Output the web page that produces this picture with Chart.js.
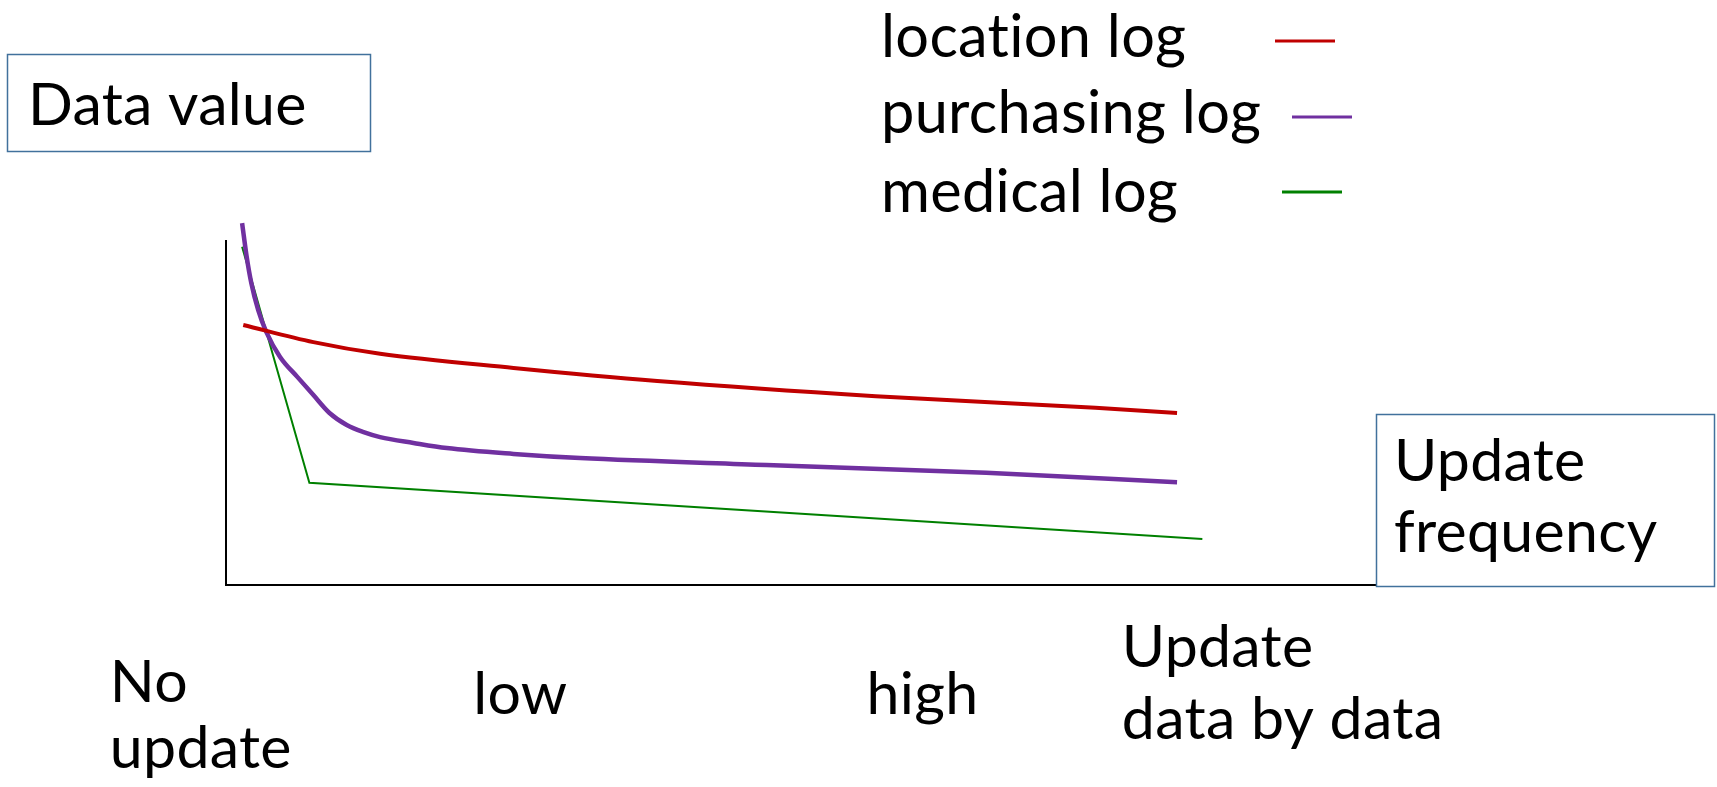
<!DOCTYPE html>
<html>
<head>
<meta charset="utf-8">
<script src="https://cdn.jsdelivr.net/npm/chart.js@4.4.1/dist/chart.umd.min.js"></script>
<style>
  html, body { margin: 0; padding: 0; background: #fff; }
  canvas { display: block; }
</style>
</head>
<body>
<canvas id="grafico" width="1717" height="787"></canvas>
<script>
  // nomes das séries e rótulos do eixo x
  const nomesSeries = ['location log', 'purchasing log', 'medical log'];
  const rotulosX = [['No', 'update'], ['low'], ['high'], ['Update', 'data by data']];
  const valoresRotulosX = [-10.1, 21.5, 55.7, 77.9];

  // location log
  const xLocation = [1.5, 7.6, 13.4, 25.0, 37.5, 56.5, 75.6, 82.7];
  const yLocation = [75.6, 70.6, 67.2, 63.1, 59.3, 54.9, 51.5, 50.0];

  // purchasing log
  const xPurchasing = [1.4, 1.8, 2.2, 2.8, 3.5, 4.7, 6.2, 7.6, 9.0, 10.5, 11.9, 13.4, 16.3, 19.2, 25.0, 30.8, 47.0, 66.1, 82.7];
  const yPurchasing = [105.2, 95.4, 87.8, 79.9, 73.6, 66.3, 60.5, 55.2, 50.0, 46.5, 44.5, 43.0, 41.3, 39.8, 38.1, 36.9, 34.9, 32.6, 29.9];

  // medical log
  const xMedical = [1.4, 7.25, 84.9];
  const yMedical = [98.3, 29.7, 13.4];

  const cores = ['#c00000', '#7030a0', '#008000'];
  const fonte = 'Lato, "Open Sans", sans-serif';

  function pares(xs, ys) {
    return xs.map((x, i) => ({ x: x, y: ys[i] }));
  }

  // textos, caixas e legenda desenhados por cima do gráfico
  const textosPlugin = {
    id: 'textos',
    afterDraw(chart) {
      const ctx = chart.ctx;
      const escalaX = chart.scales.x;
      ctx.save();
      ctx.fillStyle = '#000';
      ctx.textBaseline = 'alphabetic';
      ctx.textAlign = 'left';
      ctx.letterSpacing = '0.3px'; // evita a ligadura "ti" do Lato

      // caixas dos títulos dos eixos
      ctx.strokeStyle = '#41719c';
      ctx.lineWidth = 1.5;
      ctx.strokeRect(7.5, 54.5, 363, 97);
      ctx.fillStyle = '#fff';
      ctx.fillRect(1376, 414, 339, 173);
      ctx.strokeRect(1376.5, 414.5, 338, 172);
      ctx.fillStyle = '#000';
      ctx.font = '59px ' + fonte;
      ctx.fillText('Data value', 28, 125);
      ctx.fillText('Update', 1394, 481);
      ctx.fillText('frequency', 1394, 552);

      // legenda
      const baseLegenda = [57, 133, 212];
      const linhaLegenda = [[1275, 1335, 41], [1292, 1352, 117], [1282, 1342, 192]];
      ctx.font = '59.5px ' + fonte;
      chart.data.datasets.forEach((ds, i) => {
        ctx.fillStyle = '#000';
        ctx.fillText(ds.label, 881, baseLegenda[i]);
        ctx.strokeStyle = ds.borderColor;
        ctx.lineWidth = 3;
        ctx.beginPath();
        ctx.moveTo(linhaLegenda[i][0], linhaLegenda[i][2]);
        ctx.lineTo(linhaLegenda[i][1], linhaLegenda[i][2]);
        ctx.stroke();
      });

      // rótulos do eixo x
      const basesX = [[702, 768], [714], [714], [667, 739]];
      ctx.font = '59px ' + fonte;
      ctx.fillStyle = '#000';
      rotulosX.forEach((linhas, i) => {
        const px = escalaX.getPixelForValue(valoresRotulosX[i]);
        linhas.forEach((t, j) => ctx.fillText(t, px, basesX[i][j]));
      });
      ctx.restore();
    }
  };

  const dados = {
    datasets: [
      {
        label: nomesSeries[0],
        data: pares(xLocation, yLocation),
        borderColor: cores[0],
        borderWidth: 4,
        cubicInterpolationMode: 'monotone',
        pointRadius: 0,
        clip: false
      },
      {
        label: nomesSeries[1],
        data: pares(xPurchasing, yPurchasing),
        borderColor: cores[1],
        borderWidth: 4.5,
        cubicInterpolationMode: 'monotone',
        pointRadius: 0,
        clip: false
      },
      {
        label: nomesSeries[2],
        data: pares(xMedical, yMedical),
        borderColor: cores[2],
        borderWidth: 2,
        tension: 0,
        pointRadius: 0,
        clip: false
      }
    ]
  };

  const config = {
    type: 'line',
    data: dados,
    options: {
      responsive: false,
      animation: false,
      events: [],
      layout: {
        padding: { left: 226, top: 241, right: 341, bottom: 202 }
      },
      plugins: {
        legend: { display: false },
        tooltip: { enabled: false }
      },
      scales: {
        x: {
          type: 'linear',
          min: 0,
          max: 100,
          grid: { display: false, drawTicks: false },
          ticks: { display: false },
          border: { display: true, color: '#000', width: 2 }
        },
        y: {
          type: 'linear',
          min: 0,
          max: 100,
          grid: { display: false, drawTicks: false },
          ticks: { display: false },
          border: { display: true, color: '#000', width: 2 }
        }
      }
    },
    plugins: [textosPlugin]
  };

  const ctx = document.getElementById('grafico').getContext('2d');
  const grafico = new Chart(ctx, config);
</script>
</body>
</html>
